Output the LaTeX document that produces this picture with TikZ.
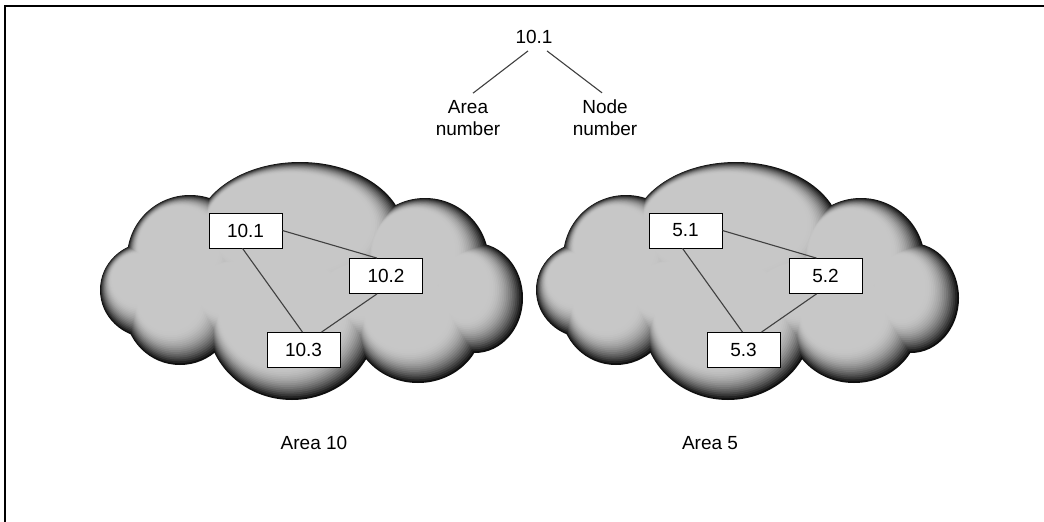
\documentclass[tikz,border=0pt]{standalone}
\usepackage{fontspec}
\setmainfont{Liberation Sans}
\tikzset{
  box/.style={draw=black, line width=0.8pt, fill=white, minimum width=73pt, minimum height=35pt, inner sep=0pt, font=\fontsize{19}{22}\selectfont},
  link/.style={draw=black!75, line width=1.1pt},
  lbl/.style={font=\fontsize{19}{22}\selectfont, align=center, inner sep=0pt},
}
\newcommand\mycloud[1]{%
  \foreach \k in {0,...,18}{%
    \pgfmathsetmacro\s{\k*1.25}%
    \pgfmathsetmacro\o{\k*0.6}%
    \pgfmathsetmacro\t{\k/18}%
    \pgfmathsetmacro\L{0.06+0.72*(1-(1-\t)*(1-\t))}%
    \definecolor{cloudc}{gray}{\L}%
    \begin{scope}[shift={(#1-\o,-\o)}]
      \foreach \cx/\cy/\rx/\ry in {300/235/105/73, 190/258/63/63, 150/290/50/48, 180/310/55/55, 292/320/85/80, 418/323/65/60, 475/298/48/55, 425/262/64/64, 250/300/70/50, 380/300/70/50}{%
        \pgfmathsetmacro\a{\rx-\s}%
        \pgfmathsetmacro\b{\ry-\s}%
        \fill[cloudc] (\cx,\cy) ellipse [x radius=\a pt, y radius=\b pt];
      }
    \end{scope}
  }%
}
\begin{document}
\begin{tikzpicture}[x=1pt,y=-1pt]
\useasboundingbox (0,0) rectangle (1044,522);
\fill[white] (0,0) rectangle (1044,522);
\draw[line width=2pt] (5,522) -- (5,6) -- (1044,6);

% clouds
\mycloud{0}
\mycloud{436}

% top legend
\node[lbl] (top) at (534,37) {10.1};
\node[lbl] (an) at (468,118) {Area\\number};
\node[lbl] (nn) at (605,118) {Node\\number};
\draw[link] ([shift={(-6pt,-7pt)}]top.south) -- ([shift={(5pt,7pt)}]an.north);
\draw[link] ([shift={(13pt,-7pt)}]top.south) -- ([shift={(-3pt,7pt)}]nn.north);

% area 10
\node[box] (a1) at (245.5,230.5) {10.1};
\node[box] (a2) at (386,276) {10.2};
\node[box] (a3) at (303.5,350) {10.3};
\draw[link] (a1.east) -- ([xshift=-9pt]a2.north);
\draw[link] ([xshift=-3pt]a1.south) -- ([xshift=-1pt]a3.north);
\draw[link] ([xshift=-9pt]a2.south) -- ([xshift=18pt]a3.north);

% area 5
\node[box] (b1) at (685.5,230.5) {5.1};
\node[box] (b2) at (825.5,276) {5.2};
\node[box] (b3) at (743.5,350) {5.3};
\draw[link] (b1.east) -- ([xshift=-9pt]b2.north);
\draw[link] ([xshift=-3pt]b1.south) -- ([xshift=-1pt]b3.north);
\draw[link] ([xshift=-9pt]b2.south) -- ([xshift=18pt]b3.north);

\node[lbl] (l10) at (314,443) {Area 10};
\node[lbl] (l5) at (710,443) {Area 5};
\end{tikzpicture}
\end{document}
